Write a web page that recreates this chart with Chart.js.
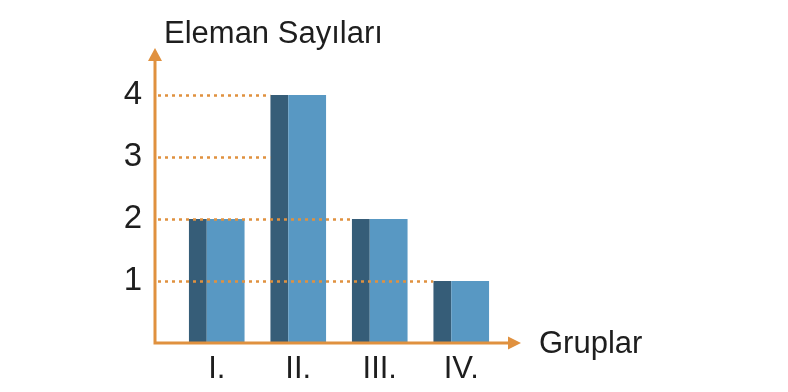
<!DOCTYPE html>
<html>
<head>
<meta charset="utf-8">
<script src="https://cdn.jsdelivr.net/npm/chart.js@4.4.1/dist/chart.umd.min.js"></script>
<style>
  html, body { margin: 0; padding: 0; background: #fff; }
</style>
</head>
<body>
<canvas id="chart" width="788" height="392"></canvas>
<script>
const groups = ['I.', 'II.', 'III.', 'IV.'];
const counts = [2, 4, 2, 1];
const yTicks = [1, 2, 3, 4];
const yTitle = 'Eleman Sayıları';
const xTitle = 'Gruplar';

const orange = '#E0913F';
const textColor = '#1e1e1e';
const fontFamily = "'Liberation Sans', Arial, Helvetica, sans-serif";

Chart.defaults.font.family = fontFamily;

// axes with arrows, dotted guide lines and the two axis titles
const axesPlugin = {
    id: 'axesPlugin',
    afterDatasetsDraw(chart) {
        const ctx = chart.ctx;
        const area = chart.chartArea;
        const yScale = chart.scales.y;
        const meta = chart.getDatasetMeta(0);
        const axisX = 155;
        const axisY = area.bottom;

        ctx.save();

        // dotted lines from the y axis to the last bar that reaches the level
        ctx.strokeStyle = orange;
        ctx.lineWidth = 2.5;
        ctx.setLineDash([3, 4]);
        yTicks.forEach(v => {
            let last = -1;
            counts.forEach((c, i) => { if (c >= v) last = i; });
            if (last < 0) return;
            const bar = meta.data[last];
            const endX = bar.x - bar.width / 2;
            const y = Math.round(yScale.getPixelForValue(v)) + 0.5;
            ctx.beginPath();
            ctx.moveTo(axisX + 3, y);
            ctx.lineTo(endX, y);
            ctx.stroke();
        });
        ctx.setLineDash([]);

        // axis lines
        ctx.lineWidth = 3;
        ctx.beginPath();
        ctx.moveTo(axisX, axisY);
        ctx.lineTo(axisX, 58);
        ctx.moveTo(axisX - 1.5, axisY);
        ctx.lineTo(510, axisY);
        ctx.stroke();

        // arrow heads
        ctx.fillStyle = orange;
        ctx.beginPath();
        ctx.moveTo(axisX, 48);
        ctx.lineTo(axisX - 7, 61);
        ctx.lineTo(axisX + 7, 61);
        ctx.closePath();
        ctx.fill();
        ctx.beginPath();
        ctx.moveTo(521, axisY);
        ctx.lineTo(508, axisY - 6.5);
        ctx.lineTo(508, axisY + 6.5);
        ctx.closePath();
        ctx.fill();

        // titles
        ctx.fillStyle = textColor;
        ctx.textBaseline = 'alphabetic';
        ctx.textAlign = 'left';
        ctx.font = '31px ' + fontFamily;
        ctx.fillText(yTitle, 164, 43);
        ctx.fillText(xTitle, 539, 353);

        ctx.restore();
    }
};

new Chart(document.getElementById('chart'), {
    type: 'bar',
    data: {
        labels: groups,
        datasets: [{
            data: counts,
            backgroundColor: '#5898C3',
            borderColor: '#365D78',
            borderWidth: { top: 0, right: 0, bottom: 0, left: 18 },
            borderSkipped: false,
            categoryPercentage: 1,
            barPercentage: 0.687
        }]
    },
    options: {
        responsive: false,
        animation: false,
        events: [],
        layout: { padding: { top: 95, right: 286, bottom: 0, left: 0 } },
        plugins: {
            legend: { display: false },
            tooltip: { enabled: false }
        },
        scales: {
            x: {
                grid: { display: false, drawTicks: false },
                border: { display: false },
                ticks: {
                    color: textColor,
                    font: { size: 31 },
                    padding: 8,
                    maxRotation: 0
                },
                afterFit(scale) { scale.height = 49; }
            },
            y: {
                min: 0,
                max: 4,
                grid: { display: false, drawTicks: false },
                border: { display: false },
                ticks: {
                    color: textColor,
                    font: { size: 33 },
                    padding: 34
                },
                afterBuildTicks(scale) {
                    scale.ticks = yTicks.map(v => ({ value: v }));
                },
                afterFit(scale) {
                    scale.width = 176;
                    // the big label padding should not push the plot area
                    scale.paddingTop = 0;
                    scale.paddingBottom = 0;
                }
            }
        }
    },
    plugins: [axesPlugin]
});
</script>
</body>
</html>
